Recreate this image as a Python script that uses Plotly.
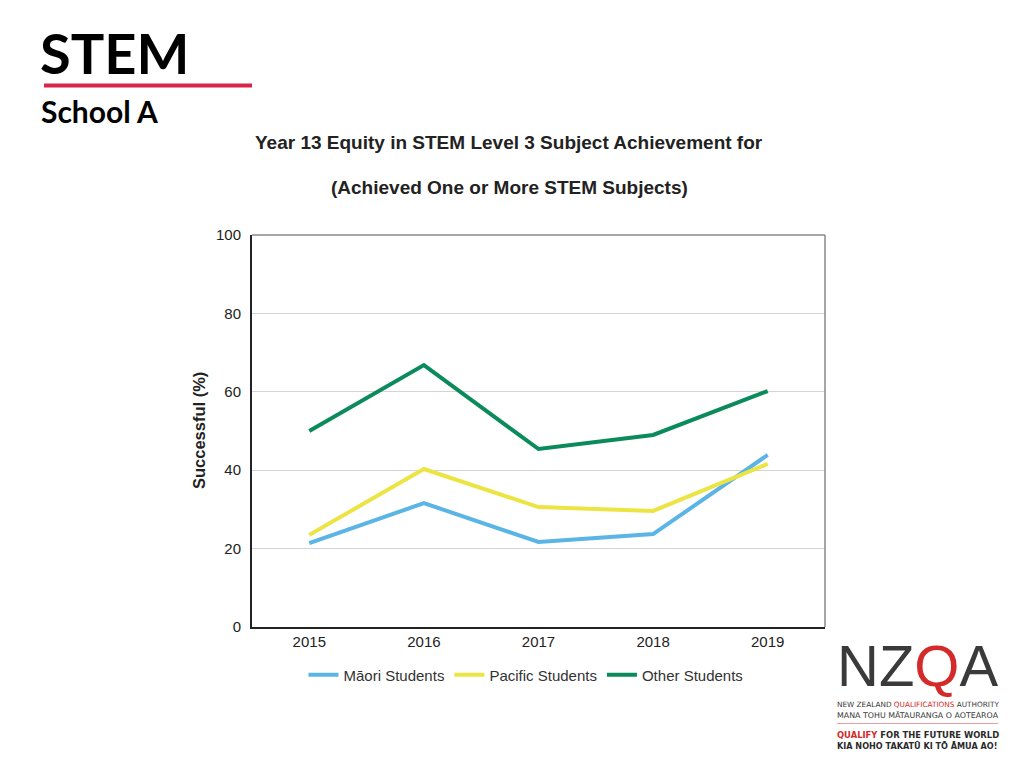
import plotly.graph_objects as go

years = ["2015", "2016", "2017", "2018", "2019"]
maori = [21.4, 31.6, 21.7, 23.7, 43.9]
pacific = [23.5, 40.3, 30.6, 29.6, 41.6]
other = [50.0, 66.8, 45.4, 49.0, 60.2]
series_names = ["Māori Students", "Pacific Students", "Other Students"]
series_colors = ["#5ab4e6", "#ece443", "#0b8a5c"]
y_ticks = [0, 20, 40, 60, 80, 100]

# plot area in reference (window) pixels; page body adds an 8px offset
OFF = 8
L, R, T, B = 252, 825, 235, 627
W, H = 1024 - OFF, 768 - OFF

def px(x):
    return (x - L) / (R - L)

def py(y):
    return (B - y) / (B - T)

fig = go.Figure()
for name, vals, col in zip(series_names, [maori, pacific, other], series_colors):
    fig.add_trace(go.Scatter(x=years, y=vals, mode="lines", name=name,
                             line=dict(color=col, width=4)))

font_family = "Liberation Sans, Arial, sans-serif"

fig.update_layout(
    width=W, height=H,
    margin=dict(l=L - OFF, r=W - (R - OFF), t=T - OFF, b=H - (B - OFF), pad=0),
    paper_bgcolor="white", plot_bgcolor="white",
    font=dict(family=font_family, color="#222222", size=15),
    showlegend=True,
    legend=dict(orientation="h", x=px(526), xanchor="center", y=py(675), yanchor="middle",
                font=dict(size=15, family=font_family, color="#333333"),
                itemwidth=30, tracegroupgap=0, bgcolor="rgba(0,0,0,0)"),
    xaxis=dict(type="category", range=[-0.5, 4.5], showgrid=False,
               showline=True, linecolor="#222222", linewidth=2,
               ticks="", tickfont=dict(size=15, color="#222222"), fixedrange=True),
    yaxis=dict(range=[0, 100], tickvals=y_ticks, showgrid=True, gridcolor="#d4d4d4",
               gridwidth=1, zeroline=False, showline=True, linecolor="#222222",
               linewidth=2, ticks="", ticklabelstandoff=6,
               tickfont=dict(size=15, color="#222222"), fixedrange=True),
)

# top and right border in gray
fig.add_shape(type="line", xref="paper", yref="paper", x0=0, x1=1, y0=1, y1=1,
              line=dict(color="#888888", width=1.5))
fig.add_shape(type="line", xref="paper", yref="paper", x0=1, x1=1, y0=0, y1=1,
              line=dict(color="#888888", width=1.5))

# y axis title
fig.add_annotation(text="<b>Successful (%)</b>", xref="paper", yref="paper",
                   x=px(199), y=py(431), textangle=-90, showarrow=False,
                   font=dict(size=16.5, family=font_family, color="#222222"),
                   xanchor="center", yanchor="middle")

# chart titles
fig.add_annotation(text="<b>Year 13 Equity in STEM Level 3 Subject Achievement for</b>",
                   xref="paper", yref="paper", x=px(509), y=py(142), showarrow=False,
                   font=dict(size=19, family=font_family, color="#222222"),
                   xanchor="center", yanchor="middle")
fig.add_annotation(text="<b>(Achieved One or More STEM Subjects)</b>",
                   xref="paper", yref="paper", x=px(509), y=py(187), showarrow=False,
                   font=dict(size=19, family=font_family, color="#222222"),
                   xanchor="center", yanchor="middle")

# slide heading
head_font = "Lato, Open Sans, sans-serif"
fig.add_annotation(text="<b>STEM</b>", xref="paper", yref="paper",
                   x=px(38), y=py(52), showarrow=False, xanchor="left", yanchor="middle",
                   font=dict(size=56, family=head_font, color="#000000"))
fig.add_shape(type="line", xref="paper", yref="paper", x0=px(44), x1=px(252),
              y0=py(85.5), y1=py(85.5), line=dict(color="#d9254a", width=4))
fig.add_annotation(text="<b>School A</b>", xref="paper", yref="paper",
                   x=px(39), y=py(111), showarrow=False, xanchor="left", yanchor="middle",
                   font=dict(size=30, family=head_font, color="#000000"))

# NZQA logo (text recreation)
fig.add_annotation(text="NZ<span style='color:#d42a2a'>Q</span>A", xref="paper", yref="paper",
                   x=px(917), y=py(665), showarrow=False, xanchor="center", yanchor="middle",
                   borderpad=0,
                   font=dict(size=58, family="Liberation Sans, Arial, sans-serif", color="#3a3a3a"))
small_font = "DejaVu Sans, Liberation Sans, sans-serif"
small_lines = [
    ("NEW ZEALAND <span style='color:#d42a2a'>QUALIFICATIONS</span> AUTHORITY", 704.5, "#3a3a3a", 7.3),
    ("MANA TOHU MĀTAURANGA O AOTEAROA", 714.5, "#3a3a3a", 7.9),
    ("<b><span style='color:#d42a2a'>QUALIFY</span> FOR THE FUTURE WORLD</b>", 735, "#2a2a2a", 8.4),
    ("<b>KIA NOHO TAKATŪ KI TŌ ĀMUA AO!</b>", 745.5, "#2a2a2a", 8.1),
]
for txt, yy, col, sz in small_lines:
    fig.add_annotation(text=txt, xref="paper", yref="paper", x=px(836), y=py(yy),
                       showarrow=False, xanchor="left", yanchor="middle", borderpad=0,
                       font=dict(size=sz, family=small_font, color=col))
fig.add_shape(type="line", xref="paper", yref="paper", x0=px(837), x1=px(998),
              y0=py(723.5), y1=py(723.5), line=dict(color="#e8a0a0", width=1))

fig.write_html("out.html")
